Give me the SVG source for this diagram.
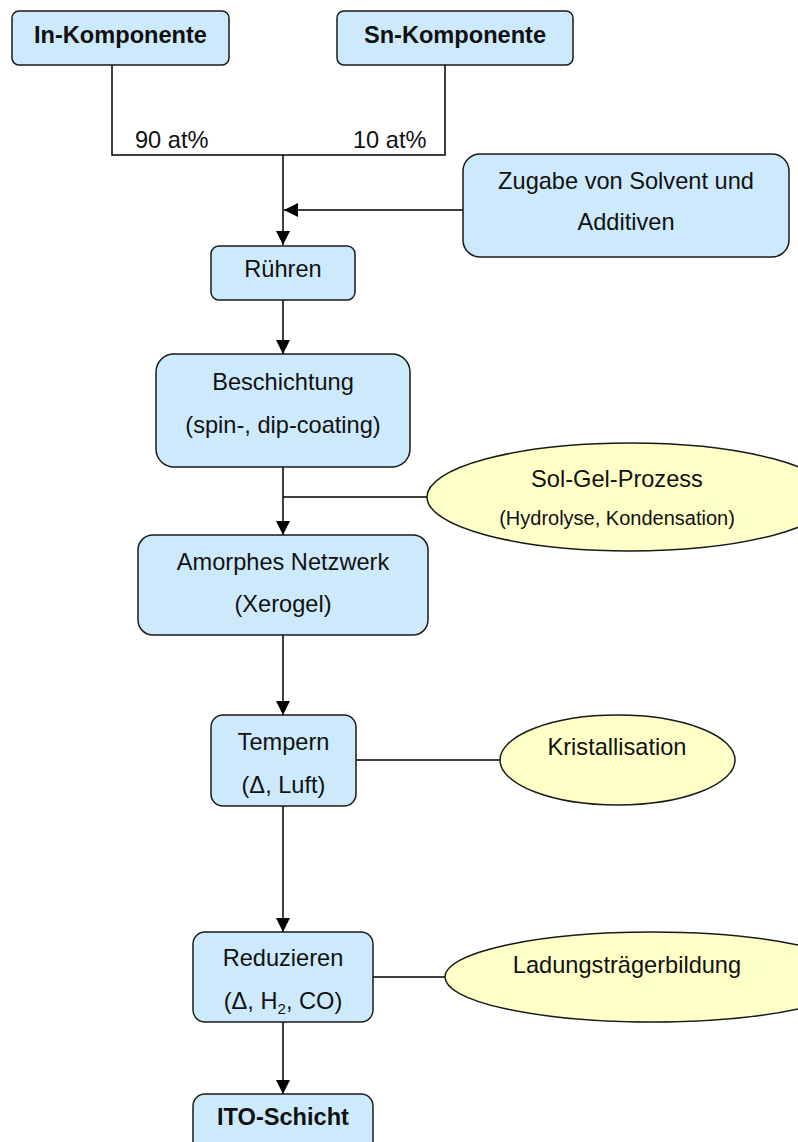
<svg xmlns="http://www.w3.org/2000/svg" width="798" height="1142" viewBox="0 0 798 1142">
<style>
.box{fill:#cdeafd;stroke:#1a1a1a;stroke-width:1.5}
.ell{fill:#ffffc8;stroke:#1a1a1a;stroke-width:1.5}
.ln{fill:none;stroke:#000;stroke-width:1.5}
text{font-family:"Liberation Sans",Arial,sans-serif;font-size:23.6px;fill:#111;text-anchor:middle}
.b{font-weight:bold}
.s{font-size:20px}
.l{text-anchor:start}
</style>
<defs>
<marker id="ah" markerWidth="14" markerHeight="14" refX="14" refY="7" orient="auto" markerUnits="userSpaceOnUse">
<path d="M0,0 L14,7 L0,14 Z" fill="#000"/>
</marker>
</defs>
<rect width="798" height="1142" fill="#fff"/>
<g id="connectors">
<path class="ln" d="M112,65 V155 H445 V65"/>
<path class="ln" d="M283,155 V245" marker-end="url(#ah)"/>
<path class="ln" d="M463,210 H284" marker-end="url(#ah)"/>
<path class="ln" d="M283,300 V354" marker-end="url(#ah)"/>
<path class="ln" d="M283,467 V535" marker-end="url(#ah)"/>
<path class="ln" d="M283,497 H427"/>
<path class="ln" d="M283,635 V715" marker-end="url(#ah)"/>
<path class="ln" d="M356,760 H500"/>
<path class="ln" d="M283,806 V932" marker-end="url(#ah)"/>
<path class="ln" d="M373,977 H445"/>
<path class="ln" d="M283,1022 V1094" marker-end="url(#ah)"/>
<text class="l" x="135" y="148">90 at%</text>
<text class="l" x="353" y="148">10 at%</text>
</g>
<g id="in-komponente">
<rect class="box" x="12" y="11" width="217" height="54" rx="7"/>
<text class="b" x="120.5" y="43">In-Komponente</text>
</g>
<g id="sn-komponente">
<rect class="box" x="337" y="11" width="236" height="54" rx="7"/>
<text class="b" x="455" y="43">Sn-Komponente</text>
</g>
<g id="zugabe">
<rect class="box" x="463" y="154" width="326" height="103" rx="17"/>
<text x="626" y="189">Zugabe von Solvent und</text>
<text x="626" y="230">Additiven</text>
</g>
<g id="ruehren">
<rect class="box" x="211" y="246" width="144" height="54" rx="8"/>
<text x="283" y="277">Rühren</text>
</g>
<g id="beschichtung">
<rect class="box" x="156" y="354" width="254" height="113" rx="18"/>
<text x="283" y="390">Beschichtung</text>
<text x="283" y="433">(spin-, dip-coating)</text>
</g>
<g id="sol-gel">
<ellipse class="ell" cx="630" cy="497" rx="203" ry="54"/>
<text x="617" y="487">Sol-Gel-Prozess</text>
<text class="s" x="617" y="525">(Hydrolyse, Kondensation)</text>
</g>
<g id="amorphes">
<rect class="box" x="138" y="535" width="290" height="100" rx="15"/>
<text x="283" y="570">Amorphes Netzwerk</text>
<text x="283" y="612">(Xerogel)</text>
</g>
<g id="tempern">
<rect class="box" x="211" y="715" width="145" height="91" rx="12"/>
<text x="283.5" y="750">Tempern</text>
<text x="283.5" y="793">(Δ, Luft)</text>
</g>
<g id="kristallisation">
<ellipse class="ell" cx="617.5" cy="760" rx="117.5" ry="45"/>
<text x="617" y="755">Kristallisation</text>
</g>
<g id="reduzieren">
<rect class="box" x="193" y="932" width="180" height="90" rx="12"/>
<text x="283" y="966">Reduzieren</text>
<text x="283" y="1009">(Δ, H<tspan font-size="15" dy="5">2</tspan><tspan dy="-5">, CO)</tspan></text>
</g>
<g id="ladung">
<ellipse class="ell" cx="652" cy="977" rx="207" ry="45"/>
<text x="627" y="973">Ladungsträgerbildung</text>
</g>
<g id="ito">
<rect class="box" x="193" y="1094" width="180" height="70" rx="12"/>
<text class="b" x="283" y="1125">ITO-Schicht</text>
</g>
</svg>
